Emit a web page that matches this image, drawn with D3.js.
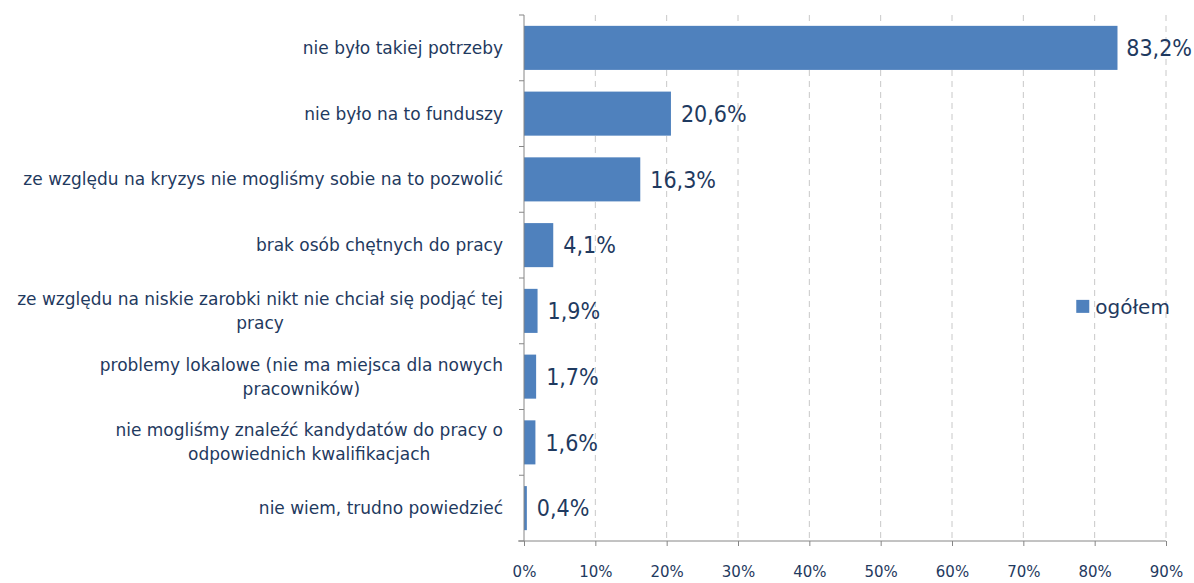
<!DOCTYPE html>
<html>
<head>
<meta charset="utf-8">
<script src="https://cdn.jsdelivr.net/npm/d3@7"></script>
<style>
  body { margin: 0; background: #fff; }
  text { font-family: "DejaVu Sans", sans-serif; fill: #1F3A60; }
  text.val { font-family: "DejaVu Sans Condensed", "DejaVu Sans", sans-serif; }
</style>
</head>
<body>
<div id="chart"></div>
<script>
// data
const categories = [
    "nie było takiej potrzeby",
    "nie było na to funduszy",
    "ze względu na kryzys nie mogliśmy sobie na to pozwolić",
    "brak osób chętnych do pracy",
    "ze względu na niskie zarobki nikt nie chciał się podjąć tej\npracy",
    "problemy lokalowe (nie ma miejsca dla nowych\npracowników)",
    "nie mogliśmy znaleźć kandydatów do pracy o\nodpowiednich kwalifikacjach",
    "nie wiem, trudno powiedzieć"
];
const values = [83.2, 20.6, 16.3, 4.1, 1.9, 1.7, 1.6, 0.4];
const xTicks = [0, 10, 20, 30, 40, 50, 60, 70, 80, 90];
const seriesName = "ogółem";

const W = 1194, H = 583;
const margin = {top: 15, right: 28, bottom: 42, left: 524},
    width = W - margin.left - margin.right,
    height = H - margin.top - margin.bottom,
    barColor = "#4F81BD",
    fmt = function(d) { return d.toFixed(1).replace(".", ",") + "%"; };

var x = d3.scaleLinear().domain([0, 90]).range([0, width]);
var y = d3.scaleBand().domain(categories).range([0, height]).paddingInner(0.33).paddingOuter(0.165);

var svg = d3.select("#chart")
    .append("svg")
        .attr("width", W)
        .attr("height", H)
    .append("g")
        .attr("transform", "translate(" + margin.left + "," + margin.top + ")");

// gridlines
svg.selectAll(".grid")
    .data(xTicks.slice(1))
    .enter().append("line")
        .attr("class", "grid")
        .attr("x1", function(d) { return x(d); })
        .attr("x2", function(d) { return x(d); })
        .attr("y1", 0)
        .attr("y2", height)
        .attr("stroke", "#C8C8C8")
        .attr("stroke-dasharray", "6,5");

// bars
svg.selectAll(".bar")
    .data(values)
    .enter().append("rect")
        .attr("class", "bar")
        .attr("x", x(0))
        .attr("y", function(d, i) { return y(categories[i]); })
        .attr("width", function(d) { return x(d) - x(0); })
        .attr("height", y.bandwidth())
        .attr("fill", barColor);

// value labels (pushed back inside the svg when they would overflow)
svg.selectAll(".val")
    .data(values)
    .enter().append("text")
        .attr("class", "val")
        .attr("x", function(d) { return x(d) + 10; })
        .attr("y", function(d, i) { return y(categories[i]) + y.bandwidth() / 2; })
        .attr("dy", "0.36em")
        .style("font-size", "23px")
        .text(fmt)
        .each(function(d) {
            var w = this.getComputedTextLength(),
                maxX = W - margin.left - 2 - w;
            if (x(d) + 10 > maxX) d3.select(this).attr("x", Math.max(x(d) + 4, maxX));
        });

// x axis
var xAxis = d3.axisBottom(x)
    .tickValues(xTicks)
    .tickSizeInner(5)
    .tickSizeOuter(0)
    .tickPadding(20)
    .tickFormat(function(d) { return d + "%"; });
var gx = svg.append("g")
    .attr("transform", "translate(0," + height + ")")
    .call(xAxis);
gx.select(".domain").attr("stroke", "#868686").attr("d", "M-6,0H" + width);
gx.selectAll(".tick line").attr("stroke", "#868686");
gx.selectAll(".tick text").style("font-size", "15px").attr("fill", "#1F3A60");

// y axis line + boundary ticks
svg.append("line")
    .attr("x1", 0).attr("x2", 0).attr("y1", 0).attr("y2", height)
    .attr("stroke", "#868686");
var step = height / categories.length;
svg.selectAll(".ytick")
    .data(d3.range(categories.length + 1))
    .enter().append("line")
        .attr("x1", -5).attr("x2", 0)
        .attr("y1", function(d) { return d * step; })
        .attr("y2", function(d) { return d * step; })
        .attr("stroke", "#868686");

// category labels
var lab = svg.selectAll(".cat")
    .data(categories)
    .enter().append("text")
        .attr("class", "cat")
        .attr("text-anchor", "middle")
        .style("font-size", "17px");
lab.each(function(d) {
    var lines = d.split("\n"),
        t = d3.select(this),
        cy = y(d) + y.bandwidth() / 2,
        lh = 24;
    // single lines are right aligned, wrapped ones centered on the widest line
    var cx = -21;
    if (lines.length === 1) {
        t.attr("text-anchor", "end");
    }
    lines.forEach(function(l, i) {
        t.append("tspan")
            .attr("x", cx)
            .attr("y", cy + (i - (lines.length - 1) / 2) * lh)
            .attr("dy", "0.35em")
            .text(l);
    });
    if (lines.length > 1) {
        var wMax = this.getBBox().width;
        t.selectAll("tspan").attr("x", cx - wMax / 2);
    }
});

// legend
var legend = svg.append("g")
    .attr("transform", "translate(" + (x(77) + 3) + "," + (y(categories[4]) + y.bandwidth() / 2 - 17) + ")");
legend.append("rect")
    .attr("width", 13)
    .attr("height", 13)
    .attr("y", 6)
    .attr("fill", barColor);
legend.append("text")
    .attr("x", 19)
    .attr("y", 13)
    .attr("dy", "0.35em")
    .style("font-size", "20px")
    .text(seriesName);
</script>
</body>
</html>
